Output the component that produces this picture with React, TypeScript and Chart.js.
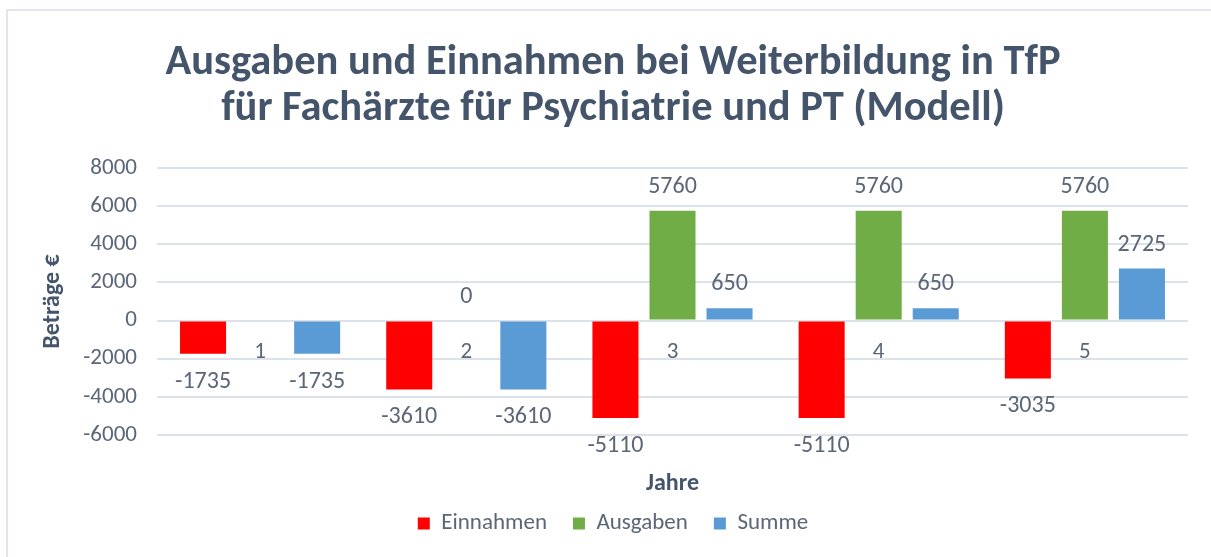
import React, { useEffect, useRef } from "react";
import { Chart, registerables } from "chart.js";

Chart.register(...registerables);

const years = ["1", "2", "3", "4", "5"];
const einnahmen = [-1735, -3610, -5110, -5110, -3035];
const ausgaben: (number | null)[] = [null, 0, 5760, 5760, 5760];
const summe = [-1735, -3610, 650, 650, 2725];
const titleLines = [
  "Ausgaben und Einnahmen bei Weiterbildung in TfP",
  "für Fachärzte für Psychiatrie und PT (Modell)",
];
const yMin = -6000;
const yMax = 8000;
const yStep = 2000;

const FONT = "Carlito, Lato, 'Noto Sans', sans-serif";
const TITLE_COLOR = "#44546A";
const TEXT_COLOR = "#5B6677";
const GRID_COLOR = "#DDE2EA";

const valueLabels = {
  id: "valueLabels",
  afterDatasetsDraw(chart: any) {
    const ctx = chart.ctx;
    ctx.save();
    ctx.font = `24px ${FONT}`;
    ctx.fillStyle = TEXT_COLOR;
    ctx.textAlign = "center";
    ctx.textBaseline = "middle";
    chart.data.datasets.forEach((ds: any, i: number) => {
      const meta = chart.getDatasetMeta(i);
      meta.data.forEach((bar: any, j: number) => {
        const v = ds.data[j];
        if (v === null || v === undefined) return;
        const y = v >= 0 ? bar.y - 24 : bar.y + 28;
        ctx.fillText(String(v), bar.x, y);
      });
    });
    ctx.restore();
  },
};

export default function App() {
  const ref = useRef<HTMLCanvasElement | null>(null);

  useEffect(() => {
    if (!ref.current) return;
    const chart = new Chart(ref.current, {
      type: "bar",
      data: {
        labels: years,
        datasets: [
          { label: "Einnahmen", data: einnahmen, backgroundColor: "#FF0000", borderWidth: 0 },
          { label: "Ausgaben", data: ausgaben, backgroundColor: "#70AD47", borderWidth: 0 },
          { label: "Summe", data: summe, backgroundColor: "#5B9BD5", borderWidth: 0 },
        ],
      },
      options: {
        responsive: false,
        animation: false,
        devicePixelRatio: 1,
        categoryPercentage: 0.83,
        barPercentage: 0.807,
        layout: { padding: { left: 15, right: 0, top: 0, bottom: 12 } },
        plugins: {
          title: {
            display: true,
            text: titleLines,
            color: TITLE_COLOR,
            font: { family: FONT, size: 42.5, weight: "bold", lineHeight: 1.082 },
            padding: { top: 40, bottom: 36 },
          },
          legend: {
            display: true,
            position: "bottom",
            labels: {
              color: TEXT_COLOR,
              font: { family: FONT, size: 23 },
              boxWidth: 12,
              boxHeight: 12,
              padding: 26,
            },
          },
          tooltip: { enabled: false },
        },
        scales: {
          x: {
            type: "category",
            position: { y: 0 } as any,
            grid: { display: false, drawTicks: false },
            border: { display: false },
            ticks: { color: TEXT_COLOR, font: { family: FONT, size: 23 }, padding: 18 },
          },
          x2: {
            type: "category",
            position: "bottom",
            grid: { display: false, drawTicks: false },
            border: { display: false },
            ticks: { display: false },
            title: {
              display: true,
              text: "Jahre",
              color: TITLE_COLOR,
              font: { family: FONT, size: 24, weight: "bold", lineHeight: 1.2 },
              padding: { top: 0, bottom: -12.4 },
            },
            afterFit: (s: any) => {
              s.height = 51;
            },
          },
          y: {
            type: "linear",
            position: "left",
            min: yMin,
            max: yMax,
            ticks: {
              stepSize: yStep,
              color: TEXT_COLOR,
              font: { family: FONT, size: 23 },
              padding: 20,
              callback: (v: any) => String(v),
            },
            grid: { color: GRID_COLOR, lineWidth: 2, drawTicks: false },
            border: { display: false },
            title: {
              display: true,
              text: "Beträge €",
              color: TITLE_COLOR,
              font: { family: FONT, size: 24, weight: "bold", lineHeight: 1.2 },
              padding: { top: 24, bottom: 0 },
            },
            afterFit: (s: any) => {
              s.width = 142;
            },
          },
          yr: {
            type: "linear",
            position: "right",
            grid: { display: false, drawTicks: false },
            border: { display: false },
            ticks: { display: false },
            afterFit: (s: any) => {
              s.width = 23;
            },
          },
        },
      } as any,
      plugins: [valueLabels],
    });
    return () => chart.destroy();
  }, []);

  return (
    <div style={{ position: "absolute", left: 0, top: 0, width: 1211, height: 557, background: "#fff" }}>
      <div
        style={{
          position: "absolute",
          left: 6,
          top: 9,
          width: 1205,
          height: 548,
          borderLeft: "2px solid #E2E6EC",
          borderTop: "2px solid #E2E6EC",
          boxSizing: "border-box",
        }}
      />
      <canvas ref={ref} width={1211} height={557} style={{ position: "absolute", left: 0, top: 0 }} />
    </div>
  );
}
